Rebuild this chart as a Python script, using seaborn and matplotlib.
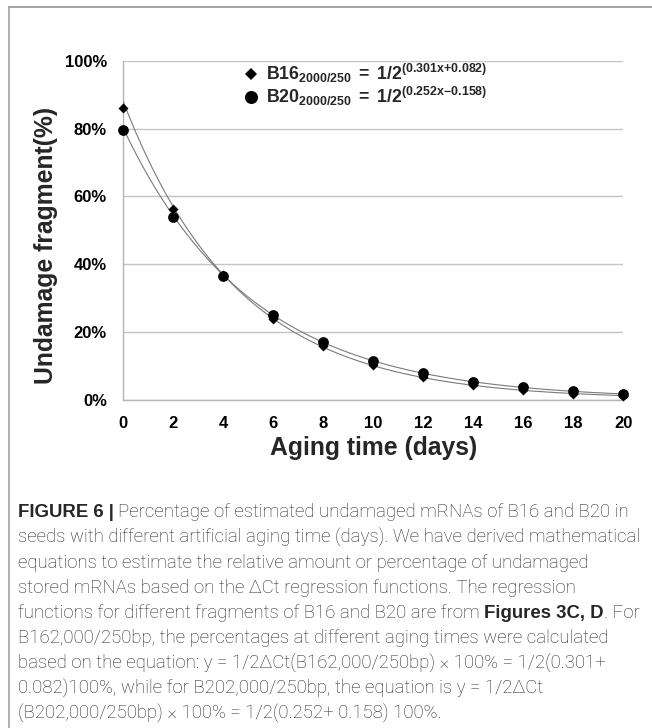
import numpy as np
import pandas as pd
import matplotlib
matplotlib.use("Agg")
import matplotlib.pyplot as plt
from matplotlib.lines import Line2D
import seaborn as sns

# ---- data -------------------------------------------------------------
days = [0, 2, 4, 6, 8, 10, 12, 14, 16, 18, 20]
b16_pct = [86.0, 56.4, 36.7, 23.9, 15.7, 10.2, 6.6, 4.2, 2.8, 1.7, 1.1]
b20_pct = [79.5, 54.0, 36.6, 25.0, 16.9, 11.5, 7.9, 5.2, 3.6, 2.4, 1.6]

y_ticks = [0, 20, 40, 60, 80, 100]
x_ticks = [0, 2, 4, 6, 8, 10, 12, 14, 16, 18, 20]

b16_label = r"$\mathbf{B16_{2000/250}\;{=}\;1/2^{(0.301x{+}0.082)}}$"
b20_label = r"$\mathbf{B20_{2000/250}\;{=}\;1/2^{(0.252x{-}0.158)}}$"

x_title = "Aging time (days)"
y_title = "Undamage fragment(%)"

caption_lines = [
    [("FIGURE 6 |", "bold"), ("Percentage of estimated undamaged mRNAs of B16 and B20 in", "light")],
    [("seeds with different artificial aging time (days). We have derived mathematical", "light")],
    [("equations to estimate the relative amount or percentage of undamaged", "light")],
    [("stored mRNAs based on the \u0394Ct regression functions. The regression", "light")],
    [("functions for different fragments of B16 and B20 are from", "light"),
     ("Figures 3C, D", "bold"), (". For", "light")],
    [("B162,000/250bp, the percentages at different aging times were calculated", "light")],
    [("based on the equation: y = 1/2\u0394Ct(B162,000/250bp) \u00d7 100% = 1/2(0.301+", "light")],
    [("0.082)100%, while for B202,000/250bp, the equation is y = 1/2\u0394Ct", "light")],
    [("(B202,000/250bp) \u00d7 100% = 1/2(0.252+ 0.158) 100%.", "light")],
]

# ---- style ------------------------------------------------------------
sns.set_style("white")
plt.rcParams["font.family"] = ["Liberation Sans", "DejaVu Sans"]
plt.rcParams["mathtext.fontset"] = "custom"
plt.rcParams["mathtext.bf"] = "Liberation Sans:bold"
plt.rcParams["mathtext.rm"] = "Liberation Sans:bold"
plt.rcParams["mathtext.it"] = "Liberation Sans:bold"

W, H = 652, 728
fig = plt.figure(figsize=(W / 100, H / 100), dpi=100)
fig.patch.set_facecolor("white")

ax = fig.add_axes([123.3 / W, 1 - 399.5 / H, 500 / W, 338.5 / H])

df = pd.DataFrame({"day": days, "B16": b16_pct, "B20": b20_pct})

# exponential trend lines fitted to each series
grid = np.linspace(min(days), max(days), 300)
for col in ["B16", "B20"]:
    slope, icpt = np.polyfit(df["day"], np.log(df[col]), 1)
    fit = pd.DataFrame({"day": grid, "val": np.exp(icpt + slope * grid)})
    sns.lineplot(data=fit, x="day", y="val", ax=ax, color="#7a7a7a",
                 linewidth=0.8, zorder=3)

sns.scatterplot(data=df, x="day", y="B16", ax=ax, marker="D", s=26,
                color="black", edgecolor="black", linewidth=0, zorder=4,
                clip_on=False)
sns.scatterplot(data=df, x="day", y="B20", ax=ax, marker="o", s=60,
                color="black", edgecolor="black", linewidth=0, zorder=5,
                clip_on=False)

ax.set_xlim(0, 20)
ax.set_ylim(0, 100)
ax.set_xticks(x_ticks)
ax.set_xticklabels([str(v) for v in x_ticks])
ax.set_yticks(y_ticks)
ax.set_yticklabels([f"{v}%" for v in y_ticks])

ax.grid(axis="y", color="#c4c4c4", linewidth=1.0)
ax.grid(axis="x", visible=False)
ax.set_axisbelow(True)
for side in ["top", "right"]:
    ax.spines[side].set_visible(False)
for side in ["left", "bottom"]:
    ax.spines[side].set_color("#b4b4b4")
    ax.spines[side].set_linewidth(1.0)

ax.tick_params(axis="both", which="major", direction="out", length=3.6,
               width=0.8, color="#b4b4b4", pad=8.2, labelsize=12,
               labelcolor="black")
for lbl in ax.get_xticklabels() + ax.get_yticklabels():
    lbl.set_fontweight("bold")

ax.set_xlabel(x_title, fontsize=17.8, fontweight="bold", labelpad=4.0)
ax.set_ylabel(y_title, fontsize=17.8, fontweight="bold", labelpad=4.5)
ax.yaxis.label.set_y((399.5 - 245) / 338.5)

handles = [
    Line2D([], [], linestyle="none", marker="D", markersize=6.4,
           color="black", markeredgewidth=0),
    Line2D([], [], linestyle="none", marker="o", markersize=9.4,
           color="black", markeredgewidth=0),
]
ax.legend(handles, [b16_label, b20_label], loc="upper left",
          bbox_to_anchor=(244 / W, 1 - 62 / H), bbox_transform=fig.transFigure,
          frameon=False, fontsize=12.8, handlelength=0.8, handletextpad=0.42,
          labelspacing=0.0, borderpad=0, borderaxespad=0)

# ---- frame around figure + caption --------------------------------------
fig.add_artist(Line2D([9 / W, 9 / W], [0, 1 - 7.3 / H], transform=fig.transFigure,
                      color="#9a9a9a", linewidth=1.1))
fig.add_artist(Line2D([9 / W, 1], [1 - 7.3 / H, 1 - 7.3 / H], transform=fig.transFigure,
                      color="#8c8c8c", linewidth=1.1))

renderer = fig.canvas.get_renderer()
cap_size = 13.4
cap_color = "#262626"
cap_fonts = {"light": ["Roboto", "DejaVu Sans"],
             "bold": ["Liberation Sans", "DejaVu Sans"]}


def text_width(s, weight):
    t = fig.text(0, 0, s, fontsize=cap_size, fontweight=weight,
                 family=cap_fonts[weight])
    w = t.get_window_extent(renderer).width
    t.remove()
    return w


space_w = text_width("x x", "light") - text_width("xx", "light")

x0 = 18.0
base0 = 517.0
step = 25.25
for i, pieces in enumerate(caption_lines):
    x = x0
    y = 1 - (base0 + i * step) / H
    for j, (txt, weight) in enumerate(pieces):
        if j > 0 and not txt.startswith("."):
            x += space_w
        t = fig.text(x / W, y, txt, fontsize=cap_size, fontweight=weight,
                     family=cap_fonts[weight], color=cap_color,
                     ha="left", va="baseline")
        x += t.get_window_extent(renderer).width

fig.savefig("out.png", dpi=100, facecolor="white")
